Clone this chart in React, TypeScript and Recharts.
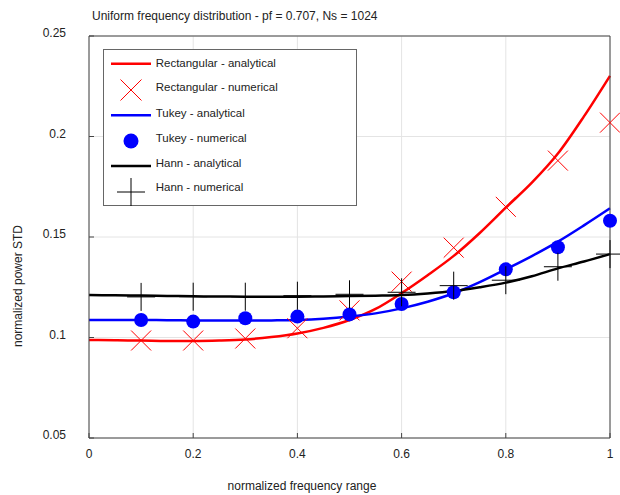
import {
  ComposedChart,
  Line,
  Scatter,
  XAxis,
  YAxis,
  CartesianGrid,
  Legend,
} from "recharts";

const xFine = [
  0, 0.05, 0.1, 0.15, 0.2, 0.25, 0.3, 0.35, 0.4, 0.45, 0.5, 0.55, 0.6, 0.65,
  0.7, 0.75, 0.8, 0.85, 0.9, 0.95, 1,
];
const rectAnalytical = [
  0.0988, 0.0986, 0.0985, 0.0983, 0.0983, 0.0985, 0.099, 0.1002, 0.102,
  0.1048, 0.1087, 0.1142, 0.1221, 0.131, 0.1406, 0.152, 0.1646, 0.177, 0.1915,
  0.21, 0.2302,
];
const tukeyAnalytical = [
  0.1087, 0.1087, 0.1087, 0.1086, 0.1085, 0.1084, 0.1084, 0.1085, 0.1087,
  0.1093, 0.1104, 0.112, 0.1145, 0.1178, 0.122, 0.1275, 0.1339, 0.1405,
  0.1477, 0.1558, 0.1643,
];
const hannAnalytical = [
  0.1211, 0.121, 0.1209, 0.1207, 0.1205, 0.1204, 0.1203, 0.1203, 0.1203,
  0.1204, 0.1206, 0.1208, 0.1211, 0.1219, 0.1231, 0.125, 0.1273, 0.1305,
  0.1344, 0.1378, 0.1415,
];

const xSample = [0.1, 0.2, 0.3, 0.4, 0.5, 0.6, 0.7, 0.8, 0.9, 1];
const rectNumerical = [
  0.0985, 0.0985, 0.0995, 0.1046, 0.1135, 0.1278, 0.1447, 0.165, 0.188,
  0.2069,
];
const tukeyNumerical = [
  0.1087, 0.1079, 0.1096, 0.1104, 0.1115, 0.1167, 0.1225, 0.1339, 0.1449,
  0.1581,
];
const hannNumerical = [
  0.1202, 0.1203, 0.1203, 0.1208, 0.1215, 0.1225, 0.1258, 0.1285, 0.1352,
  0.1415,
];

const xTicks = [0, 0.2, 0.4, 0.6, 0.8, 1];
const yTicks = [0.05, 0.1, 0.15, 0.2, 0.25];
const legendLabels = [
  "Rectangular - analytical",
  "Rectangular - numerical",
  "Tukey - analytical",
  "Tukey - numerical",
  "Hann - analytical",
  "Hann - numerical",
];

const toPoints = (xs: number[], ys: number[]) =>
  xs.map((x, i) => ({ x, y: ys[i] }));

const RED = "#ff0000";
const BLUE = "#0000ff";
const BLACK = "#000000";
const FRAME = "#444444";
const TEXT = "#222222";

const XMark = ({ cx, cy, s = 10 }: any) => (
  <g stroke={RED} strokeWidth={1}>
    <line x1={cx - s} y1={cy - s} x2={cx + s} y2={cy + s} />
    <line x1={cx - s} y1={cy + s} x2={cx + s} y2={cy - s} />
  </g>
);

const Dot = ({ cx, cy }: any) => <circle cx={cx} cy={cy} r={7} fill={BLUE} />;

const Plus = ({ cx, cy }: any) => (
  <g stroke={BLACK} strokeWidth={1}>
    <line x1={cx - 14} y1={cy} x2={cx + 14} y2={cy} />
    <line x1={cx} y1={cy - 14} x2={cx} y2={cy + 14} />
  </g>
);

const fmt = (v: number) => String(Number(v.toFixed(2)));

const BottomTick = ({ x, y, payload }: any) => (
  <g>
    <line x1={x} x2={x} y1={y} y2={y - 5} stroke={FRAME} />
    <text x={x} y={y + 20} textAnchor="middle" fill={TEXT} fontSize={12}>
      {fmt(payload.value)}
    </text>
  </g>
);

const TopTick = ({ x, y }: any) => (
  <line x1={x} x2={x} y1={y} y2={y + 5} stroke={FRAME} />
);

const LeftTick = ({ x, y, payload }: any) => (
  <g>
    <line x1={x} x2={x + 5} y1={y} y2={y} stroke={FRAME} />
    <text x={x - 23} y={y + 1} textAnchor="end" fill={TEXT} fontSize={12}>
      {fmt(payload.value)}
    </text>
  </g>
);

const RightTick = ({ x, y }: any) => (
  <line x1={x} x2={x - 5} y1={y} y2={y} stroke={FRAME} />
);

const renderLegend = () => {
  const rowY = [17.7, 42.3, 67.7, 93.3, 118.3, 141.7];
  return (
    <svg width={254} height={157} style={{ display: "block" }}>
      <rect x={0.5} y={0.5} width={253} height={156} fill="#fff" stroke="#666" />
      <line x1={8} x2={48} y1={14.7} y2={14.7} stroke={RED} strokeWidth={2.5} />
      <XMark cx={28} cy={41} s={10.5} />
      <line x1={8} x2={48} y1={66.3} y2={66.3} stroke={BLUE} strokeWidth={2.5} />
      <circle cx={28} cy={92} r={7.5} fill={BLUE} />
      <line x1={8} x2={48} y1={117} y2={117} stroke={BLACK} strokeWidth={2.5} />
      <Plus cx={28} cy={143} />
      {legendLabels.map((label, i) => (
        <text key={label} x={52.7} y={rowY[i]} fontSize={11.5} fill={TEXT}>
          {label}
        </text>
      ))}
    </svg>
  );
};

export default function App() {
  return (
    <div
      style={{
        position: "absolute",
        left: 0,
        top: 0,
        width: 620,
        height: 495,
        background: "#fff",
        fontFamily: '"Liberation Sans", Arial, sans-serif',
      }}
    >
      <ComposedChart
        width={620}
        height={495}
        margin={{ top: 35, right: 9, bottom: 27, left: 29 }}
      >
        <CartesianGrid stroke="#e4e4e4" />
        <XAxis
          dataKey="x"
          type="number"
          domain={[0, 1]}
          ticks={xTicks}
          height={30}
          tickSize={0}
          tickMargin={0}
          tickLine={false}
          tick={<BottomTick />}
          axisLine={{ stroke: FRAME }}
        />
        <XAxis
          xAxisId="top"
          orientation="top"
          type="number"
          domain={[0, 1]}
          ticks={xTicks}
          height={1}
          tickSize={0}
          tickMargin={0}
          tickLine={false}
          tick={<TopTick />}
          axisLine={{ stroke: FRAME }}
        />
        <YAxis
          dataKey="y"
          type="number"
          domain={[0.05, 0.25]}
          ticks={yTicks}
          width={60}
          tickSize={0}
          tickMargin={0}
          tickLine={false}
          tick={<LeftTick />}
          axisLine={{ stroke: FRAME }}
        />
        <YAxis
          yAxisId="right"
          orientation="right"
          type="number"
          domain={[0.05, 0.25]}
          ticks={yTicks}
          width={1}
          tickSize={0}
          tickMargin={0}
          tickLine={false}
          tick={<RightTick />}
          axisLine={{ stroke: FRAME }}
        />
        <Line
          data={toPoints(xFine, rectAnalytical)}
          dataKey="y"
          type="monotone"
          stroke={RED}
          strokeWidth={2.5}
          dot={false}
          isAnimationActive={false}
        />
        <Scatter
          data={toPoints(xSample, rectNumerical)}
          dataKey="y"
          shape={(p: any) => <XMark cx={p.cx} cy={p.cy} />}
          isAnimationActive={false}
        />
        <Line
          data={toPoints(xFine, tukeyAnalytical)}
          dataKey="y"
          type="monotone"
          stroke={BLUE}
          strokeWidth={2.5}
          dot={false}
          isAnimationActive={false}
        />
        <Scatter
          data={toPoints(xSample, tukeyNumerical)}
          dataKey="y"
          shape={(p: any) => <Dot cx={p.cx} cy={p.cy} />}
          isAnimationActive={false}
        />
        <Line
          data={toPoints(xFine, hannAnalytical)}
          dataKey="y"
          type="monotone"
          stroke={BLACK}
          strokeWidth={2.5}
          dot={false}
          isAnimationActive={false}
        />
        <Scatter
          data={toPoints(xSample, hannNumerical)}
          dataKey="y"
          shape={(p: any) => <Plus cx={p.cx} cy={p.cy} />}
          isAnimationActive={false}
        />
        <Legend
          layout="horizontal"
          verticalAlign="middle"
          align="center"
          content={renderLegend}
          wrapperStyle={{ left: 103, top: 49, width: 254, height: 157 }}
        />
        <text x={92} y={20} fontSize={12} fill={TEXT}>
          Uniform frequency distribution - pf = 0.707, Ns = 1024
        </text>
        <text x={302} y={490} fontSize={12} fill={TEXT} textAnchor="middle">
          normalized frequency range
        </text>
        <text
          x={22}
          y={286}
          fontSize={12}
          fill={TEXT}
          textAnchor="middle"
          transform="rotate(-90 22 286)"
        >
          normalized power STD
        </text>
      </ComposedChart>
    </div>
  );
}
